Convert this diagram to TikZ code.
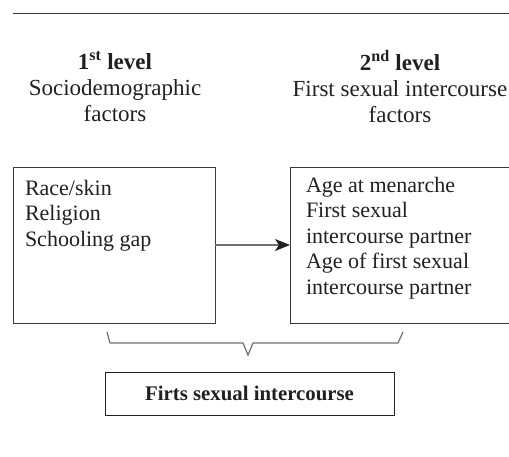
\documentclass[tikz,border=0pt]{standalone}
\usepackage{fontspec}
\setmainfont{Liberation Serif}
\usetikzlibrary{arrows.meta}
\definecolor{txt}{HTML}{231F20}
\definecolor{ln}{HTML}{3A3A3A}
\definecolor{gl}{HTML}{707070}
\begin{document}
\begin{tikzpicture}[x=1pt,y=-1pt,
  every node/.style={text=txt,inner sep=0pt,outer sep=0pt},
  head/.style={align=center,font=\fontsize{23}{26}\selectfont},
  body/.style={align=left,font=\fontsize{22}{25.5}\selectfont,anchor=north west},
  boxline/.style={draw=ln,line width=1pt},
  conn/.style={draw=gl,line width=1.2pt}]
\useasboundingbox (0,0) rectangle (509,456);
\draw[draw=ln,line width=1pt] (13,13) -- (509,13);
\node[head] (h1) at (115,87) {\textbf{1\textsuperscript{st} level}\\Sociodemographic\\factors};
\node[head] (h2) at (400,87) {\textbf{2\textsuperscript{nd} level}\\First sexual intercourse\\factors};
\draw[boxline] (13,167) rectangle (215,323);
\coordinate (lb) at (215,245);
\draw[boxline] (290,167) rectangle (520,323);
\coordinate (rb) at (290,245);
\node[body] (t1) at (25,180) {Race/skin\\Religion\\Schooling gap};
\node[body] (t2) at (306,177) {Age at menarche\\First sexual\\intercourse partner\\Age of first sexual\\intercourse partner};
\draw[conn,-{Stealth[length=15pt,width=12pt,inset=4pt,color=txt]}] (lb) -- (rb);
\coordinate (b1) at (107,332);
\coordinate (b2) at (110,343);
\coordinate (b3) at (243,343);
\coordinate (b4) at (248,355);
\coordinate (b5) at (253,343);
\coordinate (b6) at (398,343);
\coordinate (b7) at (403,332);
\draw[conn] (b1) -- (b2) -- (b3) -- (b4) -- (b5) -- (b6) -- (b7);
\node[draw=txt,line width=1pt,minimum width=289pt,minimum height=43pt,font=\fontsize{20.8}{25}\selectfont\bfseries] (fs) at (249.5,393.5) {Firts sexual intercourse};
\end{tikzpicture}
\end{document}
